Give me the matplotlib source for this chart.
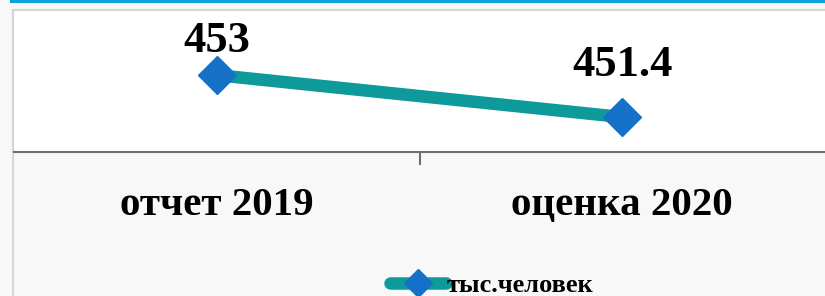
import matplotlib.pyplot as plt
from matplotlib.patches import Rectangle

categories = ["отчет 2019", "оценка 2020"]
values = [453, 451.4]
labels = ["453", "451.4"]
series_name = "тыс.человек"

plt.rcParams['font.family'] = ['Liberation Serif', 'DejaVu Serif']

fig = plt.figure(figsize=(8.25, 2.96), dpi=100)
fig.patch.set_facecolor('#f8f8f8')

# white plot area, thin gray frame, blue strip on top
fig.patches.append(Rectangle((13 / 825, 1 - 152 / 296), 1, 142 / 296, transform=fig.transFigure,
                             facecolor='white', edgecolor='#d6d6d6', linewidth=1.5, zorder=-2))
fig.patches.append(Rectangle((13 / 825, 0), 0, 1 - 10 / 296, transform=fig.transFigure,
                             facecolor='none', edgecolor='#d6d6d6', linewidth=1.5, zorder=-1))
fig.patches.append(Rectangle((10 / 825, 1 - 3 / 296), 1, 3 / 296, transform=fig.transFigure,
                             facecolor='#0aa0dc', edgecolor='none', zorder=-1))

ax = fig.add_axes([14 / 825, 1 - 152 / 296, 811 / 825, 142 / 296])
ax.set_facecolor('none')

x = range(len(categories))
line, = ax.plot(x, values, color='#0e9a9a', linewidth=9, marker='D', markersize=19,
                markerfacecolor='#1570c8', markeredgecolor='#1570c8', label=series_name,
                solid_capstyle='round', clip_on=False, zorder=3)

# label offsets (pt) as placed in the original
label_dy = [10, 23]
for xi, v, t, dy in zip(x, values, labels, label_dy):
    ax.annotate(t, (xi, v), xytext=(0, dy), textcoords='offset points', ha='center', va='bottom',
                fontsize=32, fontweight='bold')

ax.set_xlim(-0.5, 1.5)
ax.set_ylim(450.07, 455.48)
ax.set_yticks([])
for s in ['top', 'right', 'left']:
    ax.spines[s].set_visible(False)
ax.spines['bottom'].set_color('#6e6e6e')
ax.spines['bottom'].set_linewidth(1.5)

ax.set_xticks([0.5])
ax.set_xticklabels([''])
ax.tick_params(axis='x', length=9, width=1.5, color='#6e6e6e', direction='out')
for xi, c in zip(x, categories):
    ax.text(xi, -0.38, c, transform=ax.get_xaxis_transform(), ha='center', va='center',
            fontsize=29.5, fontweight='bold')

leg = fig.legend(handles=[line], loc='center', bbox_to_anchor=(492 / 825, 1 - 285 / 296),
                 frameon=False, handlelength=2.1, handletextpad=0.05,
                 prop={'size': 19, 'weight': 'bold'}, markerscale=0.75)

fig.savefig('out.png', dpi=100, facecolor=fig.get_facecolor())
